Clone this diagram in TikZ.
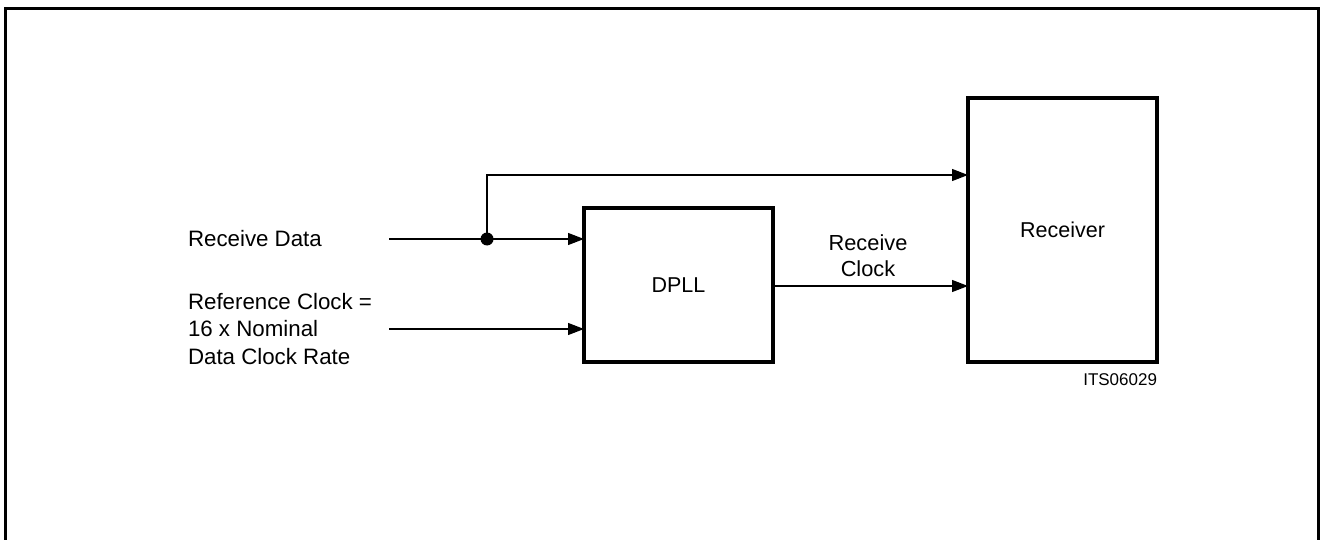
\documentclass[tikz,border=0pt]{standalone}
\usepackage{fontspec}
\setmainfont{Liberation Sans}
\usetikzlibrary{arrows.meta}
\begin{document}
\begin{tikzpicture}[x=1pt,y=-1pt,
  blk/.style={draw,line width=3.2pt,rectangle,inner sep=0pt,outer sep=0pt,font=\fontsize{21.5}{26}\selectfont},
  lbl/.style={inner sep=0pt,outer sep=0pt,font=\fontsize{22.3}{27.5}\selectfont,align=left},
  sig/.style={line width=1.2pt},
  arr/.style={sig,-{Triangle[length=16pt,width=12pt]}},
  dot/.style={circle,fill=black,inner sep=0pt,minimum width=13pt,minimum height=11pt}
]
\useasboundingbox (0,0) rectangle (1322,540);
% outer frame (open at the bottom)
\draw[line width=3pt] (5,540) -- (5,9) -- (1318,9) -- (1318,540);

% blocks
\node[blk,minimum width=189pt,minimum height=154pt] (dpll) at (678.5,285) {DPLL};
\node[blk,minimum width=189pt,minimum height=264pt] (rcv) at (1062.5,230) {Receiver};

% labels
\node[lbl,anchor=base west] (rdlbl) at (188,246) {Receive Data};
\node[lbl,anchor=base west] (rclbl) at (188,364) {Reference Clock =\\16 x Nominal\\Data Clock Rate};
\node[lbl,anchor=base,align=center,font=\fontsize{21.8}{26}\selectfont] (rxclbl) at (868,276) {Receive\\Clock};
\node[lbl,anchor=base east,font=\fontsize{17}{20}\selectfont] (its) at (1157,385) {ITS06029};

% signal coordinates
\coordinate (rdin) at (389,239);
\coordinate (rcin) at (389,329);
\coordinate (junc) at (487,239);
\coordinate (up) at (487,175);

% connectors
\draw[arr] (rdin) -- (rdin -| dpll.west);
\draw[arr] (rcin) -- (rcin -| dpll.west);
\draw[arr] (junc) -- (up) -- (up -| rcv.west);
\draw[arr] ([yshift=-1pt]dpll.east) -- ([yshift=-1pt]dpll.east -| rcv.west);
\node[dot] (jdot) at (junc) {};
\end{tikzpicture}
\end{document}
